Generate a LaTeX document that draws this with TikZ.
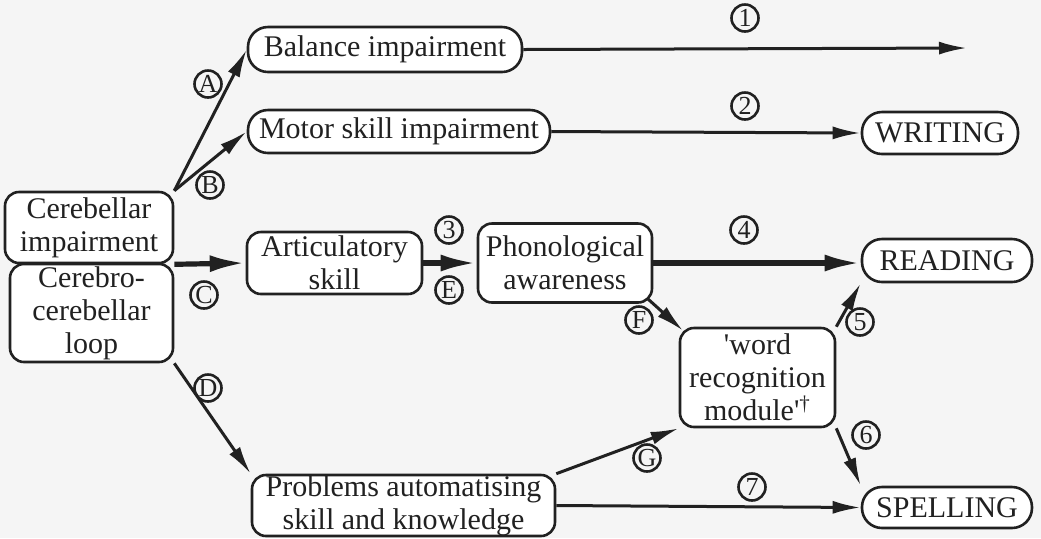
\documentclass[tikz,border=0pt]{standalone}
\usepackage{fontspec}
\newfontfamily\diagfont{Liberation Serif}
\usetikzlibrary{arrows.meta}
\definecolor{ink}{gray}{0.13}
\definecolor{paper}{gray}{0.96}
\begin{document}
\begin{tikzpicture}[
    x=.5pt,y=-.5pt,
    every node/.style={font=\diagfont\fontsize{15}{16.5}\selectfont,text=ink},
    box/.style={draw=ink,line width=1.3pt,fill=white,rounded corners=7pt,
        align=center,inner sep=0pt},
    pill/.style={box,rounded corners=10pt},
    tag/.style={circle,draw=ink,line width=1.3pt,inner sep=0pt,minimum size=13.5pt,
        font=\diagfont\fontsize{13}{13}\selectfont},
    link/.style={draw=ink,line width=1.5pt,-{Latex[length=14pt,width=6.5pt]}},
    heavy/.style={draw=ink,line width=2.6pt,-{Latex[length=18pt,width=8.5pt]}}]
    \fill[paper] (0,0) rectangle (1041,538);
    \useasboundingbox (0,0) rectangle (1041,538);
    % boxes
    \node[pill,minimum width=137pt,minimum height=22.5pt] (bal) at (385,49.5) {Balance impairment};
    \node[pill,minimum width=151pt,minimum height=21.5pt] (motor) at (399,131.5) {Motor skill impairment};
    \node[pill,minimum width=78pt,minimum height=21pt] (writ) at (940,133) {WRITING};
    \node[box,minimum width=84pt,minimum height=35.5pt] (cereb) at (89,227.5) {Cerebellar\\impairment};
    \node[box,minimum width=81.5pt,minimum height=49pt] (loop) at (91.5,313) {Cerebro-\\cerebellar\\loop};
    \node[box,minimum width=87.5pt,minimum height=31pt] (artic) at (334.5,263) {Articulatory\\skill};
    \node[box,minimum width=87pt,minimum height=39.5pt] (phon) at (565,263) {Phonological\\awareness};
    \node[pill,minimum width=85pt,minimum height=21.5pt] (read) at (947,260.5) {READING};
    \node[box,minimum width=77.5pt,minimum height=49.5pt] (word) at (757.5,377.5)
        {'word\\recognition\\module'\textsuperscript{\textdagger}};
    \node[box,minimum width=151.5pt,minimum height=30.5pt] (prob) at (403.5,505.5)
        {Problems automatising\\skill and knowledge};
    \node[pill,minimum width=85pt,minimum height=20.5pt] (spell) at (947,507.5) {SPELLING};
    \coordinate (open) at (967,48);
    % connectors
    \draw[link] (bal.east) -- (open);
    \draw[link] (motor.east) -- (writ.west);
    \draw[link] (cereb.north east) -- (bal.west);
    \draw[link] (cereb.north east) -- (motor.west);
    \draw[heavy] (cereb.south east) -- (artic.west);
    \draw[link] (loop.south east) -- (prob.north west);
    \draw[heavy] (artic.east) -- (phon.west);
    \draw[heavy] (phon.east) -- (phon.east -| read.west);
    \draw[link,shorten <=-4pt,shorten >=-3pt] (phon.south east) -- (word.north west);
    \draw[link] (word.north east) -- (read.south west);
    \draw[link] (word.south east) -- (spell.north west);
    \draw[link] (prob.north east) -- (word.south west);
    \draw[link] (prob.east) -- (spell.west);
    % circled labels
    \node[tag] (t1) at (745,18) {1};
    \node[tag] (t2) at (745,106) {2};
    \node[tag] (tA) at (208,84) {A};
    \node[tag] (tB) at (210,185) {B};
    \node[tag] (tC) at (204,295) {C};
    \node[tag] (tD) at (208,388) {D};
    \node[tag] (t3) at (449,230) {3};
    \node[tag] (tE) at (449,290) {E};
    \node[tag] (t4) at (744,230) {4};
    \node[tag] (tF) at (639,320) {F};
    \node[tag] (t5) at (860,322) {5};
    \node[tag] (t6) at (866,435) {6};
    \node[tag] (tG) at (647,458) {G};
    \node[tag] (t7) at (752,487) {7};
\end{tikzpicture}
\end{document}
